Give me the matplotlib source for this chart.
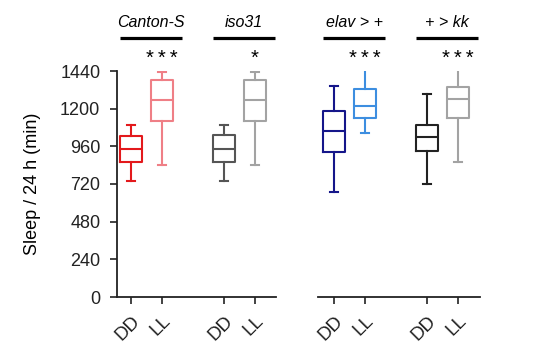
import matplotlib
matplotlib.use("Agg")
import matplotlib.pyplot as plt

plt.rcParams['font.family'] = ['Liberation Sans', 'DejaVu Sans']

groups = ["Canton-S", "iso31", "elav > +", "+ > kk"]
conditions = ["DD", "LL"]
stars = ["***", "*", "***", "***"]

whislo = [737, 843, 737, 843, 671, 1048, 718, 862]
q1     = [860, 1121, 860, 1121, 921, 1142, 930, 1142]
med    = [943, 1255, 943, 1255, 1055, 1217, 1019, 1259]
q3     = [1025, 1382, 1030, 1382, 1187, 1323, 1096, 1340]
whishi = [1096, 1431, 1096, 1431, 1344, 1473, 1293, 1473]
colors = ["#e3191c", "#ef7f86", "#555555", "#a3a3a3",
          "#15168a", "#3d8ee0", "#222222", "#a3a3a3"]
positions = [0, 1, 3, 4, 6.55, 7.55, 9.55, 10.55]
yticks = [0, 240, 480, 720, 960, 1200, 1440]

fig = plt.figure(figsize=(5.46, 3.51), dpi=100)
ax = fig.add_axes([117/546, 1-297/351, (480-117)/546, (297-71)/351])

stats = []
for i in range(len(med)):
    stats.append(dict(whislo=whislo[i], q1=q1[i], med=med[i], q3=q3[i],
                      whishi=whishi[i], fliers=[]))
bp = ax.bxp(stats, positions=positions, widths=0.7, showfliers=False,
            capwidths=0.27, patch_artist=False, manage_ticks=False)
for i, c in enumerate(colors):
    lw = 1.5
    bp['boxes'][i].set(color=c, linewidth=lw)
    bp['medians'][i].set(color=c, linewidth=lw)
    for k in (2*i, 2*i+1):
        bp['whiskers'][k].set(color=c, linewidth=lw)
        bp['caps'][k].set(color=c, linewidth=lw)

ax.set_xlim(-0.45, 11.26)
ax.set_ylim(0, 1440)
ax.set_yticks(yticks)
ax.set_yticklabels([str(v) for v in yticks], fontsize=13)
ax.set_ylabel("Sleep / 24 h (min)", fontsize=13, labelpad=14)

ax.set_xticks(positions)
ax.set_xticklabels(conditions * 4, rotation=45, ha='right', va='top',
                   rotation_mode='anchor', fontsize=13.5)
ax.tick_params(axis='both', direction='out', length=5, width=1.2, colors='#222222')
ax.tick_params(axis='x', pad=6)
ax.tick_params(axis='y', pad=7)

for s in ['top', 'right', 'bottom']:
    ax.spines[s].set_visible(False)
ax.spines['left'].set_linewidth(1.3)
ax.spines['left'].set_color('#222222')

# broken x axis segments
ax.plot([-0.45, 4.68], [0, 0], color='#222222', lw=1.3, clip_on=False,
        transform=ax.get_xaxis_transform())
ax.plot([6.03, 11.26], [0, 0], color='#222222', lw=1.3, clip_on=False,
        transform=ax.get_xaxis_transform())

# group labels with bars and stars
for g in range(4):
    x0 = positions[2*g]
    x1 = positions[2*g+1]
    bl, br = x0 - 0.34, x1 + 0.65
    xc = (bl + br) / 2
    ax.text(xc, 1750, groups[g], ha='center', va='center', fontsize=11.5,
            style='italic', clip_on=False)
    ax.plot([bl, br], [1650, 1650], color='black', lw=2.3,
            clip_on=False, solid_capstyle='butt')
    ax.text(x1, 1520, "\u2009".join(stars[g]), ha='center', va='center',
            fontsize=14.5, clip_on=False)

fig.savefig("out.png", dpi=100)
